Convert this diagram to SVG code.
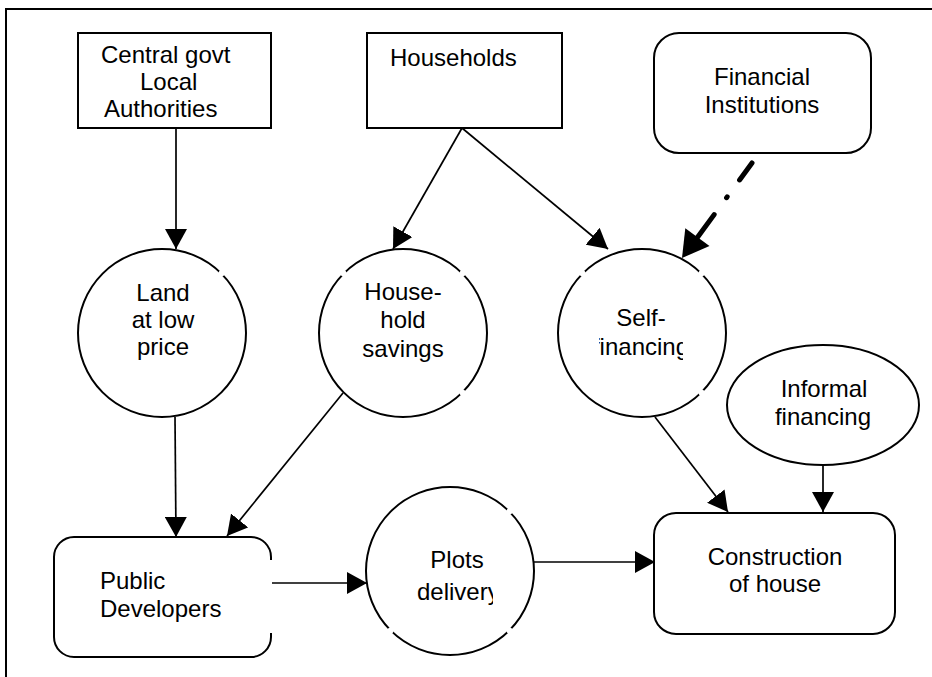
<svg xmlns="http://www.w3.org/2000/svg" width="932" height="677" viewBox="0 0 932 677">
  <style>
    .shape { fill: #fff; stroke: #000; stroke-width: 2; }
    .frame { fill: none; stroke: #000; stroke-width: 2; }
    .link { fill: none; stroke: #000; stroke-width: 1.7; }
    .gap { fill: #fff; stroke: none; }
    text { font-family: "Liberation Sans", Arial, sans-serif; font-size: 24px; fill: #000; }
  </style>
  <defs>
    <marker id="arrow" viewBox="0 0 20 22" markerWidth="20" markerHeight="22" markerUnits="userSpaceOnUse" refX="20" refY="11" orient="auto">
      <path d="M0,0 L20,11 L0,22 z" fill="#000"/>
    </marker>
    <clipPath id="clip-self"><rect x="599" y="330" width="84" height="40"/></clipPath>
    <clipPath id="clip-plots"><rect x="400" y="575" width="93" height="40"/></clipPath>
  </defs>

  <rect width="932" height="677" fill="#fff"/>
  <!-- page frame (top and left edges only) -->
  <path class="frame" d="M6,677 V9 H932"/>

  <!-- connectors -->
  <g id="connectors">
    <line class="link" x1="176" y1="128" x2="176" y2="249" marker-end="url(#arrow)"/>
    <line class="link" x1="462" y1="128" x2="393" y2="249" marker-end="url(#arrow)"/>
    <line class="link" x1="462" y1="128" x2="608" y2="249" marker-end="url(#arrow)"/>
    <line class="link" x1="175" y1="417" x2="176" y2="537" marker-end="url(#arrow)"/>
    <line class="link" x1="343" y1="393" x2="227" y2="536" marker-end="url(#arrow)"/>
    <line class="link" x1="655" y1="417" x2="728" y2="512" marker-end="url(#arrow)"/>
    <line class="link" x1="823" y1="465" x2="823" y2="512" marker-end="url(#arrow)"/>
    <line class="link" x1="272" y1="583" x2="367" y2="583" marker-end="url(#arrow)"/>
    <line class="link" x1="534" y1="562" x2="655" y2="562" marker-end="url(#arrow)"/>
    <!-- heavy dash-dot link from Financial Institutions -->
    <line x1="752" y1="163" x2="697" y2="238" stroke="#000" stroke-width="5" stroke-linecap="round" stroke-dasharray="21 21 1 21 60"/>
    <polygon points="682,258 709.5,246 685.3,228.2" fill="#000"/>
  </g>

  <g id="central-govt">
    <rect class="shape" x="78" y="33" width="193" height="95"/>
    <text x="101" y="63">Central govt</text>
    <text x="140" y="90">Local</text>
    <text x="104" y="117">Authorities</text>
  </g>

  <g id="households">
    <rect class="shape" x="367" y="33" width="195" height="95"/>
    <text x="390" y="66">Households</text>
  </g>

  <g id="financial-institutions">
    <rect class="shape" x="654" y="33" width="217" height="120" rx="25" ry="25"/>
    <text x="762" y="85" text-anchor="middle">Financial</text>
    <text x="762" y="113" text-anchor="middle">Institutions</text>
  </g>

  <g id="land">
    <circle class="shape" cx="162" cy="333" r="84"/>
    <circle class="gap" cx="221.4" cy="273.6" r="3"/>
    <text x="163" y="301" text-anchor="middle">Land</text>
    <text x="163" y="328" text-anchor="middle">at low</text>
    <text x="163" y="355" text-anchor="middle">price</text>
  </g>

  <g id="household-savings">
    <circle class="shape" cx="403" cy="333" r="84"/>
    <circle class="gap" cx="343.6" cy="273.6" r="3"/>
    <circle class="gap" cx="462.4" cy="273.6" r="3"/>
    <circle class="gap" cx="462.4" cy="392.4" r="3"/>
    <text x="403" y="300" text-anchor="middle">House-</text>
    <text x="403" y="328" text-anchor="middle">hold</text>
    <text x="403" y="357" text-anchor="middle">savings</text>
  </g>

  <g id="self-financing">
    <circle class="shape" cx="642" cy="333" r="84"/>
    <circle class="gap" cx="582.6" cy="273.6" r="3"/>
    <circle class="gap" cx="701.4" cy="273.6" r="3"/>
    <circle class="gap" cx="701.4" cy="392.4" r="3"/>
    <text x="641" y="326" text-anchor="middle">Self-</text>
    <text x="641" y="355" text-anchor="middle" clip-path="url(#clip-self)">financing</text>
  </g>

  <g id="informal-financing">
    <ellipse class="shape" cx="823" cy="405" rx="96" ry="60"/>
    <text x="824" y="397" text-anchor="middle">Informal</text>
    <text x="823" y="425" text-anchor="middle">financing</text>
  </g>

  <g id="public-developers">
    <path class="shape" d="M271,560 V557 A20,20 0 0 0 251,537 H74 A20,20 0 0 0 54,557 V637 A20,20 0 0 0 74,657 H251 A20,20 0 0 0 271,637 V633"/>
    <text x="100" y="589">Public</text>
    <text x="100" y="617">Developers</text>
  </g>

  <g id="plots-delivery">
    <circle class="shape" cx="450" cy="571" r="84"/>
    <circle class="gap" cx="509.4" cy="511.6" r="3"/>
    <circle class="gap" cx="390.6" cy="630.4" r="3"/>
    <circle class="gap" cx="509.4" cy="630.4" r="3"/>
    <text x="457" y="568" text-anchor="middle">Plots</text>
    <text x="417" y="600" clip-path="url(#clip-plots)">delivery</text>
  </g>

  <g id="construction">
    <rect class="shape" x="654" y="513" width="241" height="121" rx="22" ry="22"/>
    <text x="775" y="565" text-anchor="middle">Construction</text>
    <text x="775" y="592" text-anchor="middle">of house</text>
  </g>
</svg>
